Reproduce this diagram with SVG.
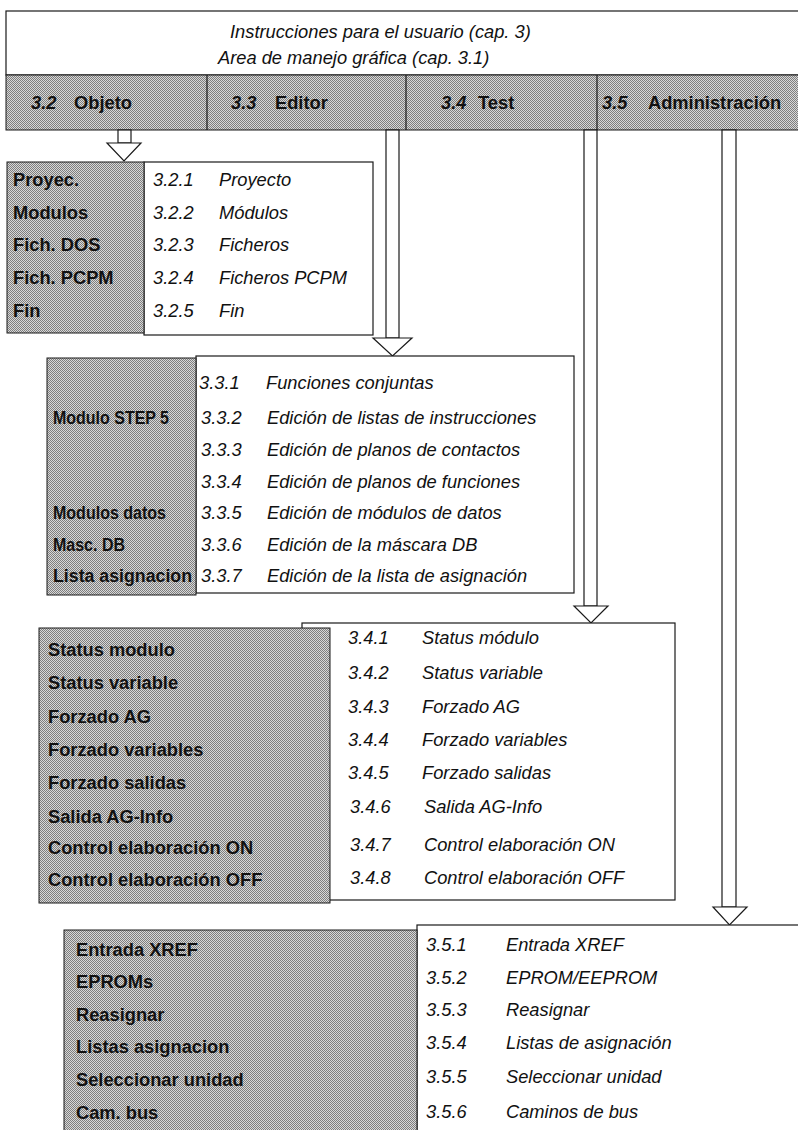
<svg xmlns="http://www.w3.org/2000/svg" width="798" height="1130" viewBox="0 0 798 1130">
  <defs>
    <!-- fine halftone used for the grey menu fields -->
    <pattern id="screen" width="2" height="2" patternUnits="userSpaceOnUse">
      <rect width="2" height="2" fill="#d8d8d8"/>
      <rect width="1" height="1" fill="#7e7e7e"/>
      <rect x="1" y="1" width="1" height="1" fill="#7e7e7e"/>
    </pattern>
  </defs>
  <style>
    .frame { fill: #ffffff; stroke: #1a1a1a; stroke-width: 1.2; }
    .grey { fill: url(#screen); stroke: #1a1a1a; stroke-width: 1; }
    .sep { stroke: #1a1a1a; stroke-width: 1.2; }
    .it { font-family: "Liberation Sans", Arial, sans-serif; font-style: italic; font-size: 18.3px; fill: #111; }
    .bd { font-family: "Liberation Sans", Arial, sans-serif; font-weight: bold; font-size: 18.3px; fill: #111; }
    .bn { font-family: "Liberation Sans", Arial, sans-serif; font-weight: bold; font-size: 17.5px; fill: #111; }
    .bi { font-family: "Liberation Sans", Arial, sans-serif; font-weight: bold; font-style: italic; font-size: 18.3px; fill: #111; }
    .shaft { fill: #ffffff; stroke: #1a1a1a; stroke-width: 1.2; }
    .head { fill: #ffffff; stroke: #1a1a1a; stroke-width: 1.2; stroke-linejoin: miter; }
  </style>

  <!-- title block -->
  <g id="header">
    <rect class="frame" x="6" y="11" width="800" height="64"/>
    <text class="it" x="230" y="38">Instrucciones para el usuario (cap. 3)</text>
    <text class="it" x="218" y="64">Area de manejo gráfica (cap. 3.1)</text>
  </g>

  <!-- menu bar -->
  <g id="menubar">
    <rect class="grey" x="6" y="75" width="800" height="55"/>
    <line class="sep" x1="207" y1="75" x2="207" y2="130"/>
    <line class="sep" x1="406" y1="75" x2="406" y2="130"/>
    <line class="sep" x1="597" y1="75" x2="597" y2="130"/>
    <g id="tab-objeto"><text class="bi" x="31" y="109">3.2</text><text class="bd" x="74" y="109">Objeto</text></g>
    <g id="tab-editor"><text class="bi" x="231" y="109">3.3</text><text class="bd" x="275" y="109">Editor</text></g>
    <g id="tab-test"><text class="bi" x="441" y="109">3.4</text><text class="bd" x="478" y="109">Test</text></g>
    <g id="tab-admin"><text class="bi" x="602" y="109">3.5</text><text class="bd" x="648" y="109">Administración</text></g>
  </g>

  <!-- hollow arrows from each menu entry down to its sub-menu -->
  <g id="connectors">
    <rect class="shaft" x="118" y="130" width="13" height="13"/>
    <polygon class="head" points="107,143 141,143 124,161"/>

    <rect class="shaft" x="386" y="130" width="13" height="208"/>
    <polygon class="head" points="373,338 412,338 392.5,356"/>

    <rect class="shaft" x="584" y="130" width="13" height="476"/>
    <polygon class="head" points="574,606 608,606 591,623"/>

    <rect class="shaft" x="722" y="130" width="14" height="777"/>
    <polygon class="head" points="713,907 747,907 729.5,925"/>
  </g>

  <!-- 3.2 Objeto -->
  <g id="menu-objeto">
    <rect class="frame" x="144" y="162" width="229" height="173"/>
    <rect class="grey" x="7" y="162" width="137" height="171"/>
    <text class="bd" x="13" y="186">Proyec.</text>
    <text class="bd" x="13" y="219">Modulos</text>
    <text class="bd" x="13" y="251">Fich. DOS</text>
    <text class="bd" x="13" y="284">Fich. PCPM</text>
    <text class="bd" x="13" y="317">Fin</text>
    <text class="it" x="153" y="186">3.2.1</text><text class="it" x="219" y="186">Proyecto</text>
    <text class="it" x="153" y="219">3.2.2</text><text class="it" x="219" y="219">Módulos</text>
    <text class="it" x="153" y="251">3.2.3</text><text class="it" x="219" y="251">Ficheros</text>
    <text class="it" x="153" y="284">3.2.4</text><text class="it" x="219" y="284">Ficheros PCPM</text>
    <text class="it" x="153" y="317">3.2.5</text><text class="it" x="219" y="317">Fin</text>
  </g>

  <!-- 3.3 Editor: key names set slightly narrower to fit the field -->
  <g id="menu-editor">
    <rect class="frame" x="196" y="356" width="378" height="237"/>
    <rect class="grey" x="47" y="358" width="149" height="237"/>
    <text class="bn" x="53" y="424" textLength="116" lengthAdjust="spacingAndGlyphs">Modulo STEP 5</text>
    <text class="bn" x="53" y="519" textLength="113" lengthAdjust="spacingAndGlyphs">Modulos datos</text>
    <text class="bn" x="53" y="551" textLength="72" lengthAdjust="spacingAndGlyphs">Masc. DB</text>
    <text class="bn" x="53" y="582" textLength="139" lengthAdjust="spacingAndGlyphs">Lista asignacion</text>
    <text class="it" x="199" y="389">3.3.1</text><text class="it" x="266" y="389">Funciones conjuntas</text>
    <text class="it" x="201" y="424">3.3.2</text><text class="it" x="267" y="424">Edición de listas de instrucciones</text>
    <text class="it" x="201" y="456">3.3.3</text><text class="it" x="267" y="456">Edición de planos de contactos</text>
    <text class="it" x="201" y="488">3.3.4</text><text class="it" x="267" y="488">Edición de planos de funciones</text>
    <text class="it" x="201" y="519">3.3.5</text><text class="it" x="267" y="519">Edición de módulos de datos</text>
    <text class="it" x="201" y="551">3.3.6</text><text class="it" x="267" y="551">Edición de la máscara DB</text>
    <text class="it" x="201" y="582">3.3.7</text><text class="it" x="267" y="582">Edición de la lista de asignación</text>
  </g>

  <!-- 3.4 Test -->
  <g id="menu-test">
    <rect class="frame" x="302" y="623" width="373" height="277"/>
    <rect class="grey" x="39" y="628" width="291" height="275"/>
    <text class="bd" x="48" y="656">Status modulo</text>
    <text class="bd" x="48" y="689">Status variable</text>
    <text class="bd" x="48" y="723">Forzado AG</text>
    <text class="bd" x="48" y="756">Forzado variables</text>
    <text class="bd" x="48" y="789">Forzado salidas</text>
    <text class="bd" x="48" y="823">Salida AG-Info</text>
    <text class="bd" x="48" y="854">Control elaboración ON</text>
    <text class="bd" x="48" y="886">Control elaboración OFF</text>
    <text class="it" x="348" y="644">3.4.1</text><text class="it" x="422" y="644">Status módulo</text>
    <text class="it" x="348" y="679">3.4.2</text><text class="it" x="422" y="679">Status variable</text>
    <text class="it" x="348" y="713">3.4.3</text><text class="it" x="422" y="713">Forzado AG</text>
    <text class="it" x="348" y="746">3.4.4</text><text class="it" x="422" y="746">Forzado variables</text>
    <text class="it" x="348" y="779">3.4.5</text><text class="it" x="422" y="779">Forzado salidas</text>
    <text class="it" x="350" y="813">3.4.6</text><text class="it" x="424" y="813">Salida AG-Info</text>
    <text class="it" x="350" y="851">3.4.7</text><text class="it" x="424" y="851">Control elaboración ON</text>
    <text class="it" x="350" y="884">3.4.8</text><text class="it" x="424" y="884">Control elaboración OFF</text>
  </g>

  <!-- 3.5 Administración -->
  <g id="menu-admin">
    <rect class="frame" x="417" y="925" width="400" height="220"/>
    <rect class="grey" x="64" y="930" width="353" height="215"/>
    <text class="bd" x="76" y="956">Entrada XREF</text>
    <text class="bd" x="76" y="988">EPROMs</text>
    <text class="bd" x="76" y="1021">Reasignar</text>
    <text class="bd" x="76" y="1053">Listas asignacion</text>
    <text class="bd" x="76" y="1086">Seleccionar unidad</text>
    <text class="bd" x="76" y="1119">Cam. bus</text>
    <text class="it" x="426" y="951">3.5.1</text><text class="it" x="506" y="951">Entrada XREF</text>
    <text class="it" x="426" y="984">3.5.2</text><text class="it" x="506" y="984">EPROM/EEPROM</text>
    <text class="it" x="426" y="1016">3.5.3</text><text class="it" x="506" y="1016">Reasignar</text>
    <text class="it" x="426" y="1049">3.5.4</text><text class="it" x="506" y="1049">Listas de asignación</text>
    <text class="it" x="426" y="1083">3.5.5</text><text class="it" x="506" y="1083">Seleccionar unidad</text>
    <text class="it" x="426" y="1118">3.5.6</text><text class="it" x="506" y="1118">Caminos de bus</text>
  </g>
</svg>
